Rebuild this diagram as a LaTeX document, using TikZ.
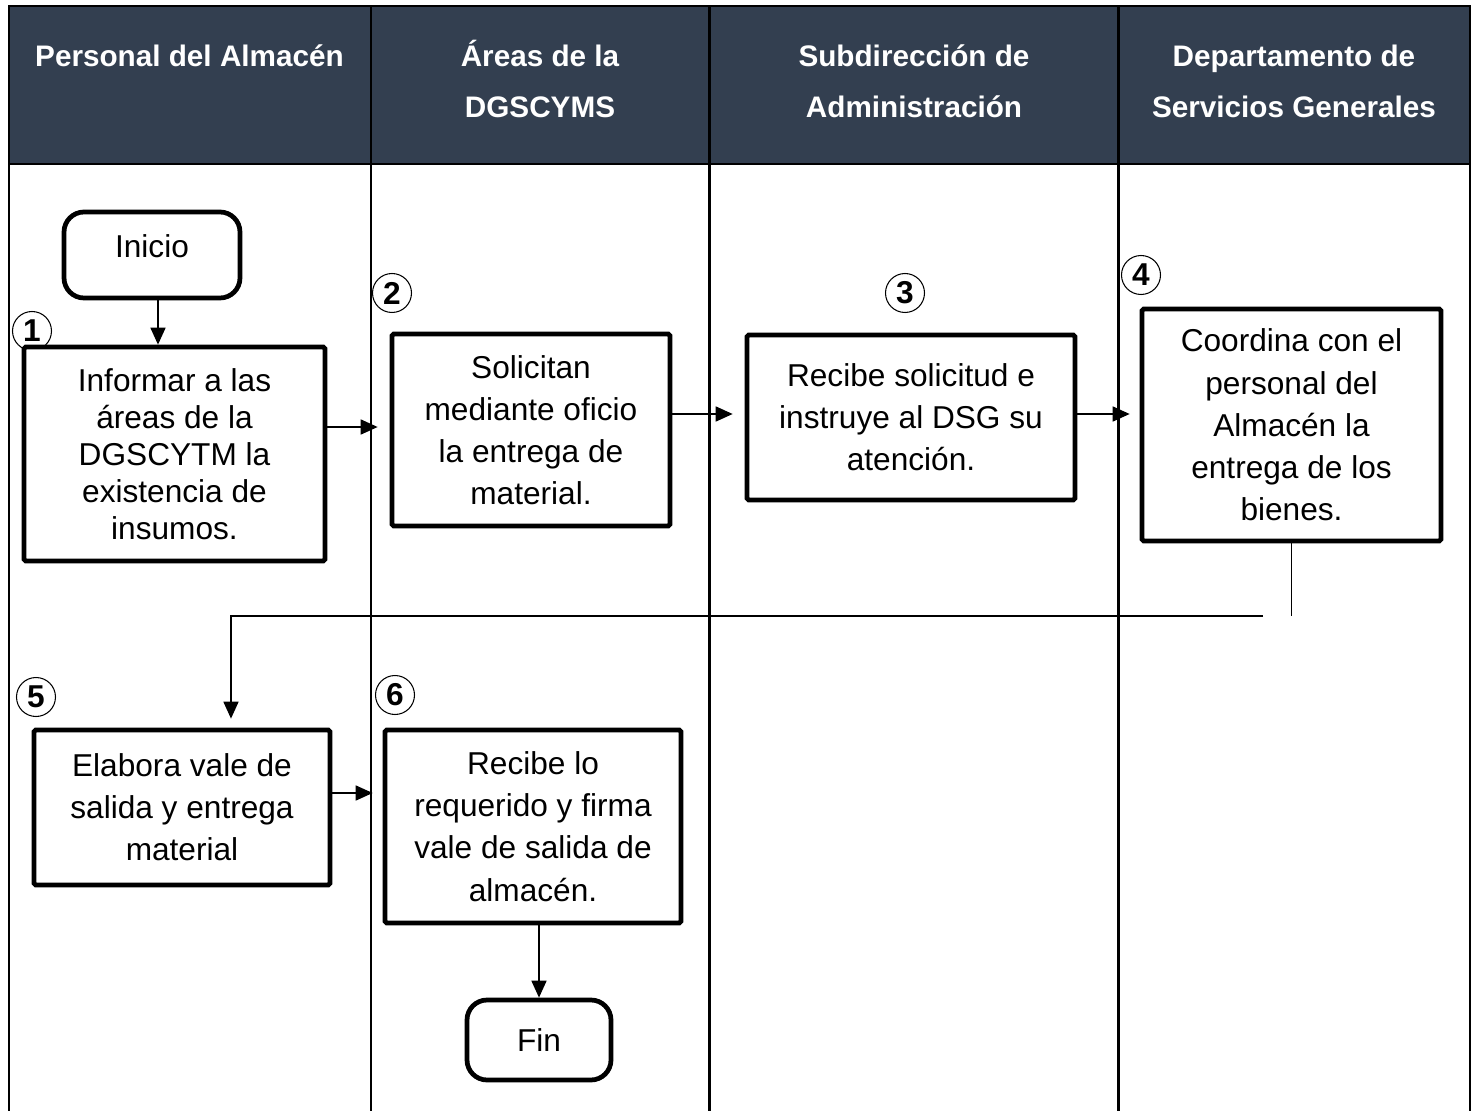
\documentclass[tikz,border=0pt]{standalone}
\usepackage{fontspec}
\setmainfont{Liberation Sans}
\usetikzlibrary{arrows.meta}
\definecolor{kopfblau}{HTML}{333F50}

\begin{document}
\begin{tikzpicture}[x=0.02cm,y=-0.02cm,
        kasten/.style={draw,line width=2.7pt,fill=white,rounded corners=1pt,align=center,
            inner sep=0pt,font=\fontsize{18}{24}\selectfont},
        endpunkt/.style={kasten,rounded corners=0.4cm},
        nummer/.style={draw,circle,line width=0.6pt,minimum size=0.78cm,inner sep=0pt,
            font=\fontsize{18}{18}\selectfont\bfseries},
        kopf/.style={anchor=base,text=white,font=\fontsize{16.9}{20}\selectfont\bfseries},
        pfeil/.style={-{Triangle[length=0.34cm,width=0.3cm]},line width=1pt},
        linie/.style={line width=1pt}]
    \useasboundingbox (0,0) rectangle (1474,1111);

    % Kopfzeile
    \fill[kopfblau] (9,6) rectangle (1470,164);
    \node[kopf] (kopfa1) at (189.5,67) {Personal del Almacén};
    \foreach \x/\a/\b [count=\i from 2] in {540/Áreas de la/DGSCYMS,
            914/Subdirección de/Administración,
            1294/Departamento de/Servicios Generales} {
            \node[kopf] (kopfa\i) at (\x,67) {\a};
            \node[kopf] (kopfb\i) at (\x,118) {\b};
        }

    % Rahmen und Spalten
    \draw[line width=1.6pt] (9,1111) -- (9,6) -- (1470,6) -- (1470,1111);
    \draw[line width=1.6pt] (9,164) -- (1470,164);
    \foreach \x in {371,709.5,1118.5} {
            \draw[line width=1.5pt] (\x,6) -- (\x,1111);
        }

    % Nummern
    \foreach \n/\x/\y in {1/32/331, 2/392/293, 3/905/293, 4/1141/275, 5/36/697, 6/395/695} {
            \node[nummer] (nr\n) at (\x,\y) {\n};
        }

    % Schritte
    \node[endpunkt,minimum width=3.52cm,minimum height=1.72cm,text depth=0.35cm] (start) at (152,255) {Inicio};
    \node[kasten,minimum width=6.02cm,minimum height=4.28cm,font=\fontsize{18}{21}\selectfont] (schritt1) at (174.5,454)
        {Informar a las\\áreas de la\\DGSCYTM la\\existencia de\\insumos.};
    \node[kasten,minimum width=5.56cm,minimum height=3.84cm] (schritt2) at (531,430)
        {Solicitan\\mediante oficio\\la entrega de\\material.};
    \node[kasten,minimum width=6.56cm,minimum height=3.3cm] (schritt3) at (911,417.5)
        {Recibe solicitud e\\instruye al DSG su\\atención.};
    \node[kasten,minimum width=5.98cm,minimum height=4.64cm] (schritt4) at (1291.5,425)
        {Coordina con el\\personal del\\Almacén la\\entrega de los\\bienes.};
    \node[kasten,minimum width=5.92cm,minimum height=3.1cm] (schritt5) at (182,807.5)
        {Elabora vale de\\salida y entrega\\material};
    \node[kasten,minimum width=5.92cm,minimum height=3.86cm] (schritt6) at (533,826.5)
        {Recibe lo\\requerido y firma\\vale de salida de\\almacén.};
    \node[endpunkt,minimum width=2.88cm,minimum height=1.6cm] (ende) at (539,1040) {Fin};

    % Verbindungen
    \coordinate (v1) at ([xshift=0.12cm]start.south);
    \draw[pfeil] (v1) -- (v1 |- schritt1.north);
    \coordinate (v2) at ([yshift=0.54cm]schritt1.east);
    \draw[pfeil,shorten >=0.24cm] (v2) -- (v2 -| schritt2.west);
    \coordinate (v3) at ([yshift=0.32cm]schritt2.east);
    \draw[pfeil,shorten >=0.24cm] (v3) -- (v3 -| schritt3.west);
    \coordinate (v4) at ([yshift=0.07cm]schritt3.east);
    \draw[pfeil,shorten >=0.2cm] (v4) -- (v4 -| schritt4.west);
    \coordinate (knick) at (1263,616);
    \draw[linie] (schritt4.south) -- (schritt4.south |- knick);
    \coordinate (v5) at ([xshift=0.98cm]schritt5.north);
    \draw[pfeil,shorten >=0.18cm] (knick) -| (v5);
    \coordinate (v6) at ([yshift=0.29cm]schritt5.east);
    \draw[pfeil,shorten >=0.2cm] (v6) -- (v6 -| schritt6.west);
    \draw[pfeil] (schritt6.south -| ende.north) -- (ende.north);

\end{tikzpicture}
\end{document}
